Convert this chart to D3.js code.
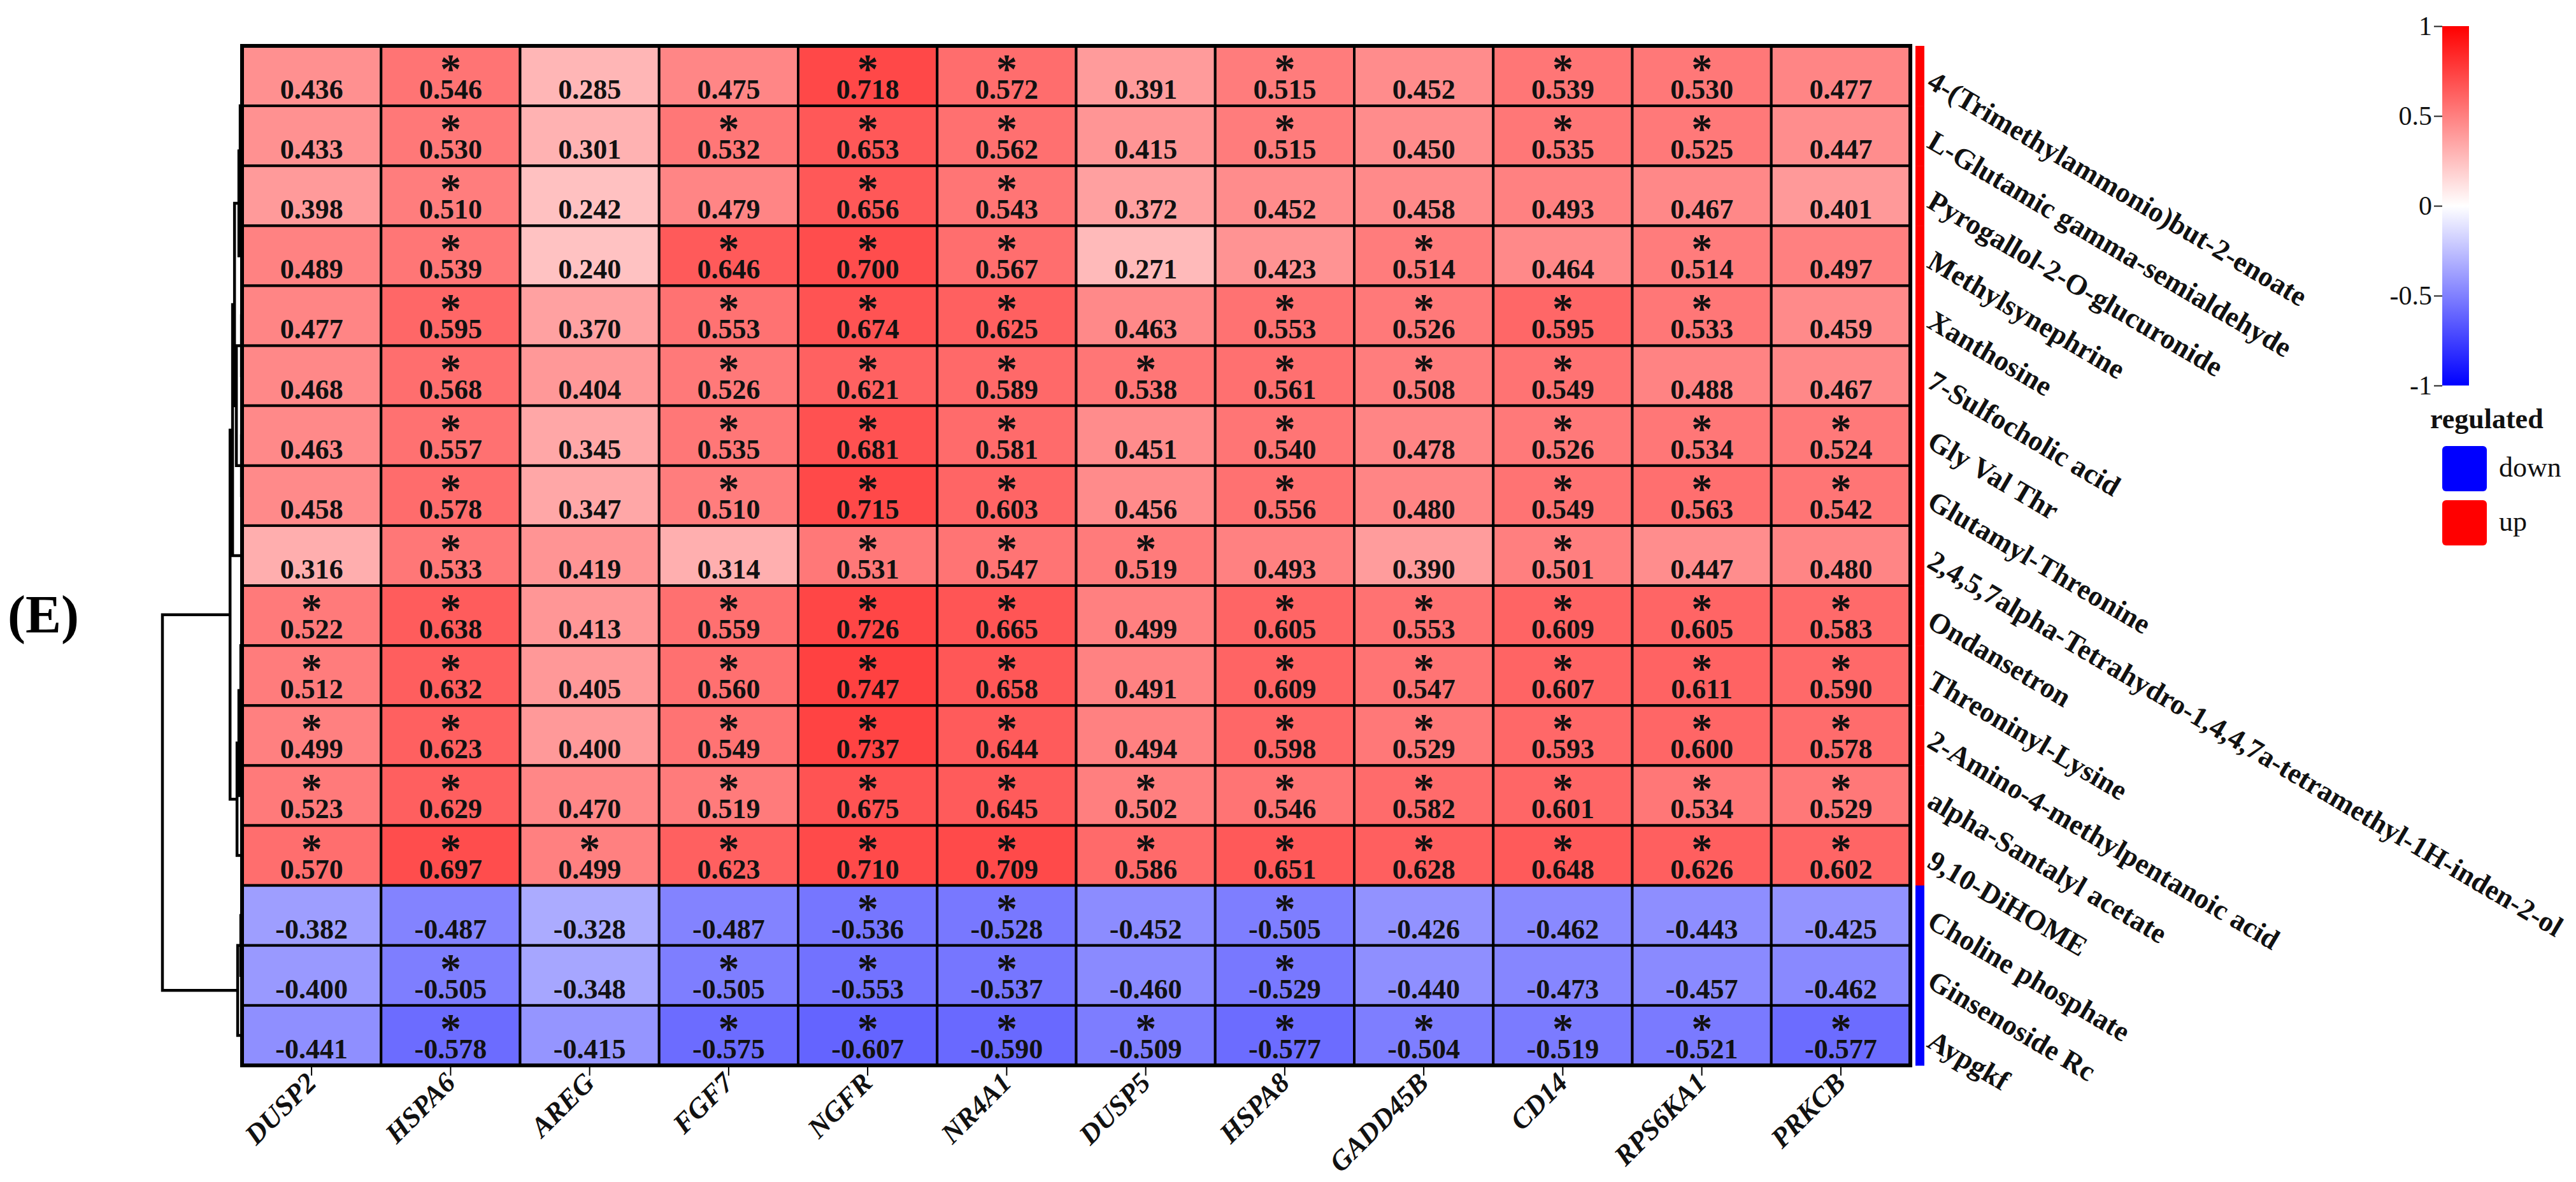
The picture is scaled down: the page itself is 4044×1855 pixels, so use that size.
<!doctype html>
<html lang="en">
<head>
	<meta charset="utf-8">
	<title>Correlation heatmap (E)</title>
	<script src="https://cdn.jsdelivr.net/npm/d3@7/dist/d3.min.js"></script>
	<style>
	body{
		padding:0px;
		margin:0px;
		background:#fff;
	}
	svg text{
		font-family:"Liberation Serif","Times New Roman",serif;
	}
	</style>
</head>
<body>
<svg id="chartSvg"></svg>
<script>
// genes (columns)
var genes = ["DUSP2","HSPA6","AREG","FGF7","NGFR","NR4A1","DUSP5","HSPA8","GADD45B","CD14","RPS6KA1","PRKCB"];

// metabolites (rows)
var metabolites = [
	"4-(Trimethylammonio)but-2-enoate",
	"L-Glutamic gamma-semialdehyde",
	"Pyrogallol-2-O-glucuronide",
	"Methylsynephrine",
	"Xanthosine",
	"7-Sulfocholic acid",
	"Gly Val Thr",
	"Glutamyl-Threonine",
	"2,4,5,7alpha-Tetrahydro-1,4,4,7a-tetramethyl-1H-inden-2-ol",
	"Ondansetron",
	"Threoninyl-Lysine",
	"2-Amino-4-methylpentanoic acid",
	"alpha-Santalyl acetate",
	"9,10-DiHOME",
	"Choline phosphate",
	"Ginsenoside Rc",
	"Aypgkf"
];

// up / down regulated metabolite
var regulated = ["up","up","up","up","up","up","up","up","up","up","up","up","up","up","down","down","down"];

// correlation values, one row per metabolite
var corr = [
	[0.436,0.546,0.285,0.475,0.718,0.572,0.391,0.515,0.452,0.539,0.530,0.477],
	[0.433,0.530,0.301,0.532,0.653,0.562,0.415,0.515,0.450,0.535,0.525,0.447],
	[0.398,0.510,0.242,0.479,0.656,0.543,0.372,0.452,0.458,0.493,0.467,0.401],
	[0.489,0.539,0.240,0.646,0.700,0.567,0.271,0.423,0.514,0.464,0.514,0.497],
	[0.477,0.595,0.370,0.553,0.674,0.625,0.463,0.553,0.526,0.595,0.533,0.459],
	[0.468,0.568,0.404,0.526,0.621,0.589,0.538,0.561,0.508,0.549,0.488,0.467],
	[0.463,0.557,0.345,0.535,0.681,0.581,0.451,0.540,0.478,0.526,0.534,0.524],
	[0.458,0.578,0.347,0.510,0.715,0.603,0.456,0.556,0.480,0.549,0.563,0.542],
	[0.316,0.533,0.419,0.314,0.531,0.547,0.519,0.493,0.390,0.501,0.447,0.480],
	[0.522,0.638,0.413,0.559,0.726,0.665,0.499,0.605,0.553,0.609,0.605,0.583],
	[0.512,0.632,0.405,0.560,0.747,0.658,0.491,0.609,0.547,0.607,0.611,0.590],
	[0.499,0.623,0.400,0.549,0.737,0.644,0.494,0.598,0.529,0.593,0.600,0.578],
	[0.523,0.629,0.470,0.519,0.675,0.645,0.502,0.546,0.582,0.601,0.534,0.529],
	[0.570,0.697,0.499,0.623,0.710,0.709,0.586,0.651,0.628,0.648,0.626,0.602],
	[-0.382,-0.487,-0.328,-0.487,-0.536,-0.528,-0.452,-0.505,-0.426,-0.462,-0.443,-0.425],
	[-0.400,-0.505,-0.348,-0.505,-0.553,-0.537,-0.460,-0.529,-0.440,-0.473,-0.457,-0.462],
	[-0.441,-0.578,-0.415,-0.575,-0.607,-0.590,-0.509,-0.577,-0.504,-0.519,-0.521,-0.577]
];

// significance marks (1 = *)
var sig = [
	[0,1,0,0,1,1,0,1,0,1,1,0],
	[0,1,0,1,1,1,0,1,0,1,1,0],
	[0,1,0,0,1,1,0,0,0,0,0,0],
	[0,1,0,1,1,1,0,0,1,0,1,0],
	[0,1,0,1,1,1,0,1,1,1,1,0],
	[0,1,0,1,1,1,1,1,1,1,0,0],
	[0,1,0,1,1,1,0,1,0,1,1,1],
	[0,1,0,1,1,1,0,1,0,1,1,1],
	[0,1,0,0,1,1,1,0,0,1,0,0],
	[1,1,0,1,1,1,0,1,1,1,1,1],
	[1,1,0,1,1,1,0,1,1,1,1,1],
	[1,1,0,1,1,1,0,1,1,1,1,1],
	[1,1,0,1,1,1,1,1,1,1,1,1],
	[1,1,1,1,1,1,1,1,1,1,1,1],
	[0,0,0,0,1,1,0,1,0,0,0,0],
	[0,1,0,1,1,1,0,1,0,0,0,0],
	[0,1,0,1,1,1,1,1,1,1,1,1]
];

// row dendrogram, hclust style: negative = leaf (1-based row), positive = earlier merge
var mergeA = [-1,-10,-5,-7, 1,-15, 2, 5, 7, 3, 6, 9, 8,13,14,15];
var mergeB = [-2,-11,-6,-8,-3,-16,-12,-4,-13, 4,-17,-14,10,-9,12,11];
var mergeH = [0.016,0.016,0.023,0.023,0.039,0.031,0.031,0.055,0.055,0.086,0.070,0.078,0.109,0.133,0.164,1.0];

var legendTicks = [1,0.5,0,-0.5,-1];
var regLegend = ["down","up"];

//plain hyphen instead of unicode minus
function fmt(v){
	return d3.format(".3f")(v).replace("\u2212","-");
}

function init(){
	var width = 4044;
	var height = 1855;
	var left = 380, right = 2999, top = 72, bottom = 1672;

	var svg = d3.select("#chartSvg").attr("width", width).attr("height", height);

	var xScale = d3.scaleBand().domain(genes).range([left, right]);
	var yScale = d3.scaleBand().domain(metabolites).range([top, bottom]);
	var color = d3.scaleLinear().domain([-1,0,1]).range(["#0000ff","#ffffff","#ff0000"]);
	var regColor = d3.scaleOrdinal().domain(["down","up"]).range(["#0000ff","#ff0000"]);

	//cells
	var cells = [];
	for(var i=0;i<metabolites.length;i++){
		for(var j=0;j<genes.length;j++){
			cells.push({r:metabolites[i], c:genes[j], v:corr[i][j], s:sig[i][j]});
		}
	}
	var g = svg.append("g");
	g.selectAll("rect.cell").data(cells).enter().append("rect")
		.attr("class","cell")
		.attr("x", function(d){return xScale(d.c);})
		.attr("y", function(d){return yScale(d.r);})
		.attr("width", xScale.bandwidth())
		.attr("height", yScale.bandwidth())
		.attr("fill", function(d){return color(d.v);})
		.attr("stroke","#000")
		.attr("stroke-width",4);

	g.selectAll("text.val").data(cells).enter().append("text")
		.attr("class","val")
		.attr("x", function(d){return xScale(d.c)+xScale.bandwidth()/2;})
		.attr("y", function(d){return yScale(d.r)+83;})
		.attr("text-anchor","middle")
		.attr("font-size",44)
		.attr("font-weight","bold")
		.attr("fill","#111")
		.text(function(d){return fmt(d.v);});

	g.selectAll("text.star").data(cells.filter(function(d){return d.s;})).enter().append("text")
		.attr("class","star")
		.attr("x", function(d){return xScale(d.c)+xScale.bandwidth()/2;})
		.attr("y", function(d){return yScale(d.r)+58;})
		.attr("text-anchor","middle")
		.attr("font-size",66)
		.attr("font-weight","bold")
		.attr("fill","#111")
		.text("*");

	//outer frame
	svg.append("rect")
		.attr("x",left).attr("y",top)
		.attr("width",right-left).attr("height",bottom-top)
		.attr("fill","none")
		.attr("stroke","#000")
		.attr("stroke-width",6);

	//x axis ticks + labels
	var xAxis = svg.append("g");
	xAxis.selectAll("line").data(genes).enter().append("line")
		.attr("x1", function(d){return xScale(d)+xScale.bandwidth()/2;})
		.attr("x2", function(d){return xScale(d)+xScale.bandwidth()/2;})
		.attr("y1", bottom+3)
		.attr("y2", bottom+16)
		.attr("stroke","#000")
		.attr("stroke-width",2);
	xAxis.selectAll("text").data(genes).enter().append("text")
		.attr("transform", function(d){
			var cx = xScale(d)+xScale.bandwidth()/2+10;
			return "translate("+cx+","+(bottom+30)+") rotate(-45)";
		})
		.attr("text-anchor","end")
		.attr("font-size",44)
		.attr("font-weight","bold")
		.attr("font-style","italic")
		.attr("fill","#111")
		.text(function(d){return d;});

	//regulated side bar
	var bar = svg.append("g");
	bar.selectAll("rect").data(metabolites).enter().append("rect")
		.attr("x",3007)
		.attr("y", function(d){return yScale(d);})
		.attr("width",14)
		.attr("height", yScale.bandwidth()+0.5)
		.attr("fill", function(d,i){return regColor(regulated[i]);});

	//row labels
	svg.append("g").selectAll("text").data(metabolites).enter().append("text")
		.attr("transform", function(d){
			var y = yScale(d)+yScale.bandwidth()/2+17;
			return "translate(3023,"+y+") rotate(30.5)";
		})
		.attr("font-size",45)
		.attr("font-weight","bold")
		.attr("fill","#111")
		.text(function(d){return d;});

	//dendrogram
	var xDend = d3.scaleLinear().domain([0,1]).range([382,255]);
	var nodes = [];
	function pos(k){
		if(k<0){
			return {x:xDend(0), y:yScale(metabolites[-k-1])+yScale.bandwidth()/2};
		}
		return nodes[k-1];
	}
	var dend = svg.append("g");
	for(var m=0;m<mergeH.length;m++){
		var a = pos(mergeA[m]);
		var b = pos(mergeB[m]);
		var nx = xDend(mergeH[m]);
		nodes.push({x:nx, y:(a.y+b.y)/2});
		dend.append("path")
			.attr("d", "M"+a.x+","+a.y+"H"+nx+"V"+b.y+"H"+b.x)
			.attr("fill","none")
			.attr("stroke","#000")
			.attr("stroke-width",4.5);
	}

	//panel label
	svg.append("text")
		.attr("x",12)
		.attr("y",993)
		.attr("font-size",84)
		.attr("font-weight","bold")
		.attr("fill","#000")
		.text("(E)");

	//color legend
	var defs = svg.append("defs");
	var grad = defs.append("linearGradient")
		.attr("id","corrGrad")
		.attr("x1","0").attr("y1","0").attr("x2","0").attr("y2","1");
	legendTicks.forEach(function(t,i){
		grad.append("stop")
			.attr("offset", (i/(legendTicks.length-1))*100+"%")
			.attr("stop-color", color(t));
	});
	var lScale = d3.scaleLinear().domain([1,-1]).range([41,605]);
	svg.append("rect")
		.attr("x",3834).attr("y",lScale(1))
		.attr("width",42).attr("height",lScale(-1)-lScale(1))
		.attr("fill","url(#corrGrad)");
	var lAxis = svg.append("g")
		.attr("transform","translate(3834,0)")
		.call(d3.axisLeft(lScale).tickValues(legendTicks).tickSize(13).tickFormat(function(d){return String(d);}));
	lAxis.select(".domain").remove();
	lAxis.selectAll("line").attr("stroke","#222").attr("stroke-width",2);
	lAxis.selectAll("text")
		.attr("font-family","Liberation Serif")
		.attr("font-size",42)
		.attr("fill","#111")
		.attr("x",-16);

	//regulated legend
	svg.append("text")
		.attr("x",3815)
		.attr("y",672)
		.attr("font-size",44)
		.attr("font-weight","bold")
		.attr("fill","#111")
		.text("regulated");
	var lg = svg.append("g");
	regLegend.forEach(function(r,i){
		lg.append("rect")
			.attr("x",3834).attr("y",700+i*85)
			.attr("width",70).attr("height",71)
			.attr("rx",6)
			.attr("fill", regColor(r));
		lg.append("text")
			.attr("x",3923).attr("y",748+i*85)
			.attr("font-size",44)
			.attr("fill","#111")
			.text(r);
	});
}
init();
</script>
</body>
</html>
